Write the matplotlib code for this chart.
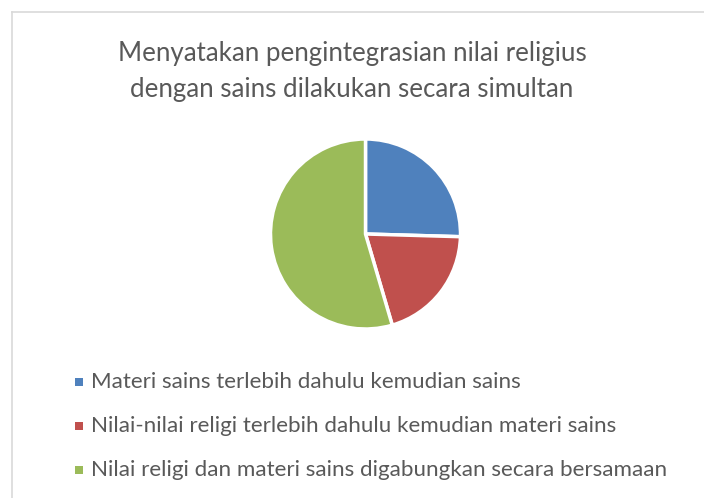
import matplotlib
matplotlib.use("Agg")
import matplotlib.pyplot as plt
from matplotlib.patches import Rectangle
from matplotlib.lines import Line2D

title_lines = ["Menyatakan pengintegrasian nilai religius",
               "dengan sains dilakukan secara simultan"]
categories = ["Materi sains terlebih dahulu kemudian sains",
              "Nilai-nilai religi terlebih dahulu kemudian materi sains",
              "Nilai religi dan materi sains digabungkan secara bersamaan"]
values = [14, 11, 30]
colors = ["#4F81BD", "#C0504D", "#9BBB59"]

W, H = 704, 498
DPI = 100
plt.rcParams['font.family'] = ['Lato', 'DejaVu Sans']
fig = plt.figure(figsize=(W / DPI, H / DPI), dpi=DPI)
fig.patch.set_facecolor("white")

def fx(px):
    return px / W

def fy(py):
    return (H - py) / H

# border
fig.add_artist(Line2D([fx(12), fx(12)], [fy(12), 0], color="#D9D9D9", lw=1.2))
fig.add_artist(Line2D([fx(12), 1], [fy(12), fy(12)], color="#D9D9D9", lw=1.2))

# pie
cx, cy, r = 365.5, 234, 95
ax = fig.add_axes([fx(cx - r), fy(cy + r), 2 * r / W, 2 * r / H])
ax.pie(values, colors=colors, startangle=90, counterclock=False,
       wedgeprops=dict(edgecolor="white", linewidth=2.5))
ax.set_xlim(-1, 1)
ax.set_ylim(-1, 1)
ax.set_aspect("auto")
ax.axis("off")

renderer = fig.canvas.get_renderer()

def fit_text(x, y, s, target_w, ha="center", base=16):
    t = fig.text(x, y, s, ha=ha, va="center", color="#595959", fontsize=base)
    w = t.get_window_extent(renderer).width
    t.set_fontsize(base * target_w / w)
    return t

# title
t1 = fit_text(fx(352), fy(53), title_lines[0], 470)
fig.text(fx(352), fy(89), title_lines[1], ha="center", va="center",
         color="#595959", fontsize=t1.get_fontsize())

# legend
rows = [382, 426, 470]
lt = fit_text(fx(91), fy(rows[0]), categories[0], 430, ha="left")
fs = lt.get_fontsize()
for i, (lab, c, yy) in enumerate(zip(categories, colors, rows)):
    if i > 0:
        fig.text(fx(91), fy(yy), lab, ha="left", va="center", color="#595959",
                 fontsize=fs)
    fig.add_artist(Rectangle((fx(75), fy(yy + 4)), 8 / W, 8 / H,
                             facecolor=c, edgecolor="none",
                             transform=fig.transFigure))

fig.savefig("out.png", dpi=DPI, facecolor="white")
